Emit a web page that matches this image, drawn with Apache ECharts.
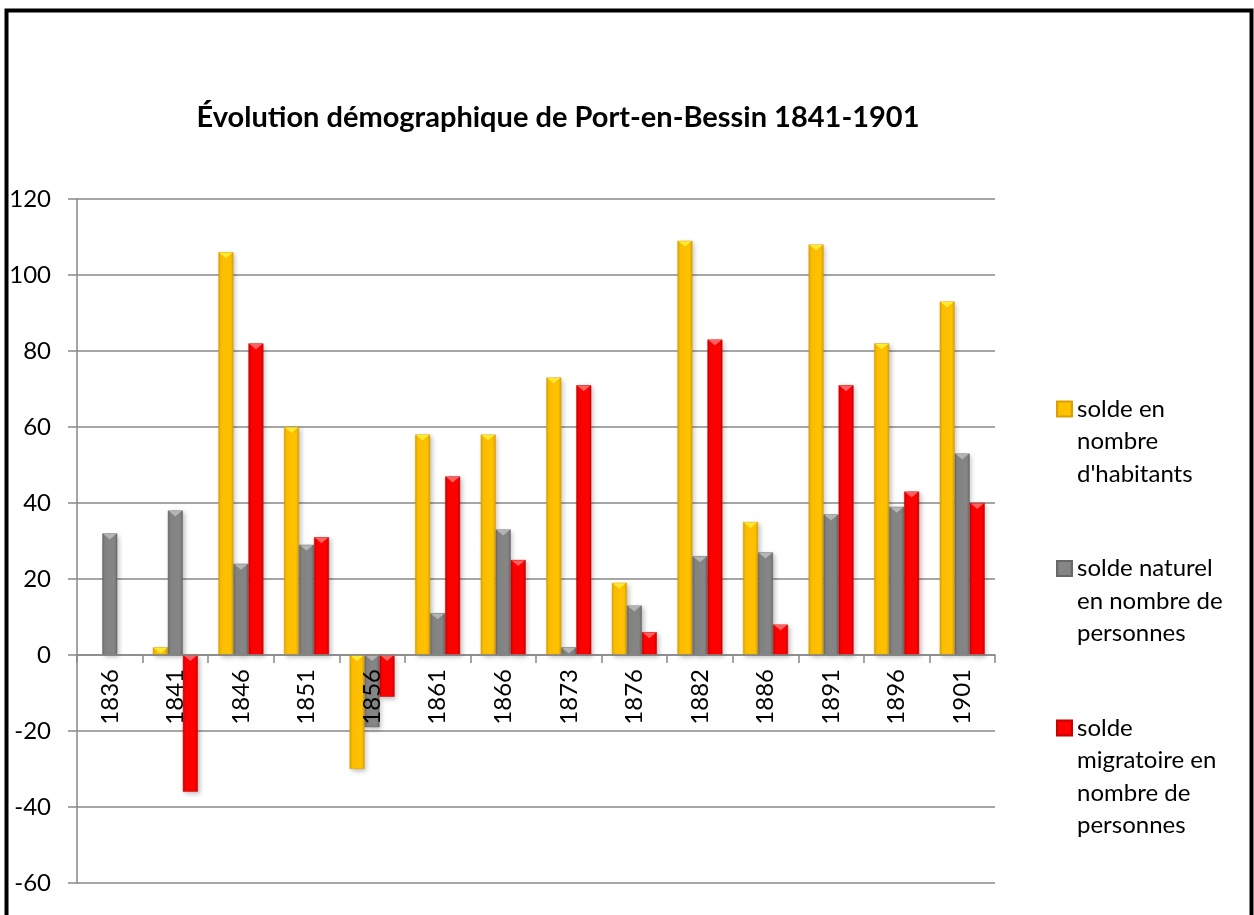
<!DOCTYPE html>
<html>
<head>
<meta charset="utf-8">
<script src="https://cdn.jsdelivr.net/npm/echarts@6/dist/echarts.min.js"></script>
<style>
  html, body { margin: 0; padding: 0; background: #fff; }
  #chart { width: 1254px; height: 915px; }
</style>
</head>
<body>
<div id="chart"></div>
<script>
// données
const annees = ['1836', '1841', '1846', '1851', '1856', '1861', '1866', '1873', '1876', '1882', '1886', '1891', '1896', '1901'];
const soldeTotal = [null, 2, 106, 60, -30, 58, 58, 73, 19, 109, 35, 108, 82, 93];
const soldeNaturel = [32, 38, 24, 29, -19, 11, 33, 2, 13, 26, 27, 37, 39, 53];
const soldeMigratoire = [null, -36, 82, 31, -11, 47, 25, 71, 6, 83, 8, 71, 43, 40];
const nomsSeries = [
  "solde en\nnombre\nd'habitants",
  "solde naturel\nen nombre de\npersonnes",
  "solde\nmigratoire en\nnombre de\npersonnes"
];
const yTicks = { min: -60, max: 120, interval: 20 };

const chart = echarts.init(document.getElementById('chart'));

const BAR_W = 15;

// petit dégradé horizontal pour imiter le relief des barres
const relief = (bord, centre) => new echarts.graphic.LinearGradient(0, 0, 1, 0, [
  { offset: 0, color: bord },
  { offset: 0.18, color: centre },
  { offset: 0.82, color: centre },
  { offset: 1, color: bord }
]);

// une légende par série : le carré est aligné sur la première ligne du texte
const LH = 32.5;
const legende = (nom, yPremiereLigne) => {
  const n = nom.split('\n').length;
  return {
    data: [nom],
    orient: 'vertical',
    left: 1056,
    top: yPremiereLigne - (2 * n - 1) * LH / 2,
    padding: 0,
    icon: 'rect',
    itemWidth: 15,
    itemHeight: 15,
    selectedMode: false,
    formatter: (name) => '\n'.repeat(n - 1) + name,
    textStyle: { fontFamily: 'Lato', fontSize: 24, lineHeight: LH, color: '#000' }
  };
};

const serie = (nom, data, bord, centre) => ({
  name: nom,
  type: 'bar',
  data: data,
  barWidth: BAR_W,
  barGap: '0%',
  itemStyle: {
    color: relief(bord, centre),
    borderColor: bord,
    borderWidth: 0.5,
    shadowBlur: 5,
    shadowOffsetX: 2,
    shadowOffsetY: 2,
    shadowColor: 'rgba(0,0,0,0.25)'
  }
});

// biseau clair en haut de chaque barre
const biseau = (data, rang, clair) => ({
  type: 'custom',
  z: 3,
  silent: true,
  data: data.map((v, i) => [i, v]).filter(d => d[1] !== null),
  renderItem: (params, api) => {
    const haut = api.coord([api.value(0), api.value(1)]);
    const zero = api.coord([api.value(0), 0]);
    const x = haut[0] - 1.5 * BAR_W + rang * BAR_W;
    const y = Math.min(haut[1], zero[1]);
    const h = Math.min(6, Math.abs(zero[1] - haut[1]));
    return {
      type: 'polygon',
      shape: { points: [[x + 1, y + 0.5], [x + BAR_W - 1, y + 0.5], [x + BAR_W / 2, y + h]] },
      style: { fill: clair }
    };
  }
});

// grille : 120 en haut (y=199), -60 en bas (y=883), zéro à y=655
const grille = { left: 77, right: 259, top: 199, bottom: 32 };
const hauteur = 915 - grille.top - grille.bottom;
const decalageZero = -hauteur * (0 - yTicks.min) / (yTicks.max - yTicks.min);

chart.setOption({
  animation: false,
  title: {
    text: 'Évolution démographique de Port-en-Bessin 1841-1901',
    left: 553,
    textAlign: 'center',
    top: 98,
    textStyle: { fontFamily: 'Lato', fontSize: 29, fontWeight: 'bold', color: '#000' }
  },
  legend: [
    legende(nomsSeries[0], 409),
    legende(nomsSeries[1], 568.5),
    legende(nomsSeries[2], 728)
  ],
  grid: Object.assign({ containLabel: false, outerBoundsMode: 'none' }, grille),
  xAxis: {
    type: 'category',
    data: annees,
    z: 10,
    offset: decalageZero,
    axisLine: { onZero: false, lineStyle: { color: '#888', width: 1.5 } },
    axisTick: { show: true, length: 8, lineStyle: { color: '#888', width: 1.5 } },
    axisLabel: { rotate: 90, margin: 14, fontFamily: 'Lato', fontSize: 24, color: '#000' },
    splitLine: { show: false }
  },
  yAxis: {
    type: 'value',
    min: yTicks.min,
    max: yTicks.max,
    interval: yTicks.interval,
    axisLine: { show: true, lineStyle: { color: '#888', width: 1.5 } },
    axisTick: { show: true, length: 9, lineStyle: { color: '#888', width: 1.5 } },
    axisLabel: { margin: 26, fontFamily: 'Lato', fontSize: 24, color: '#000' },
    splitLine: { lineStyle: { color: '#888', width: 1.5 } }
  },
  series: [
    serie(nomsSeries[0], soldeTotal, '#D9A000', '#FFC000'),
    serie(nomsSeries[1], soldeNaturel, '#686868', '#858585'),
    serie(nomsSeries[2], soldeMigratoire, '#C80000', '#FF0000'),
    biseau(soldeTotal, 0, '#FFEA30'),
    biseau(soldeNaturel, 1, '#B4B4B4'),
    biseau(soldeMigratoire, 2, '#FF6060')
  ],
  graphic: [{
    type: 'rect',
    shape: { x: 6.5, y: 10.5, width: 1245, height: 940 },
    style: { fill: 'none', stroke: '#000', lineWidth: 4 },
    silent: true
  }]
});
</script>
</body>
</html>
